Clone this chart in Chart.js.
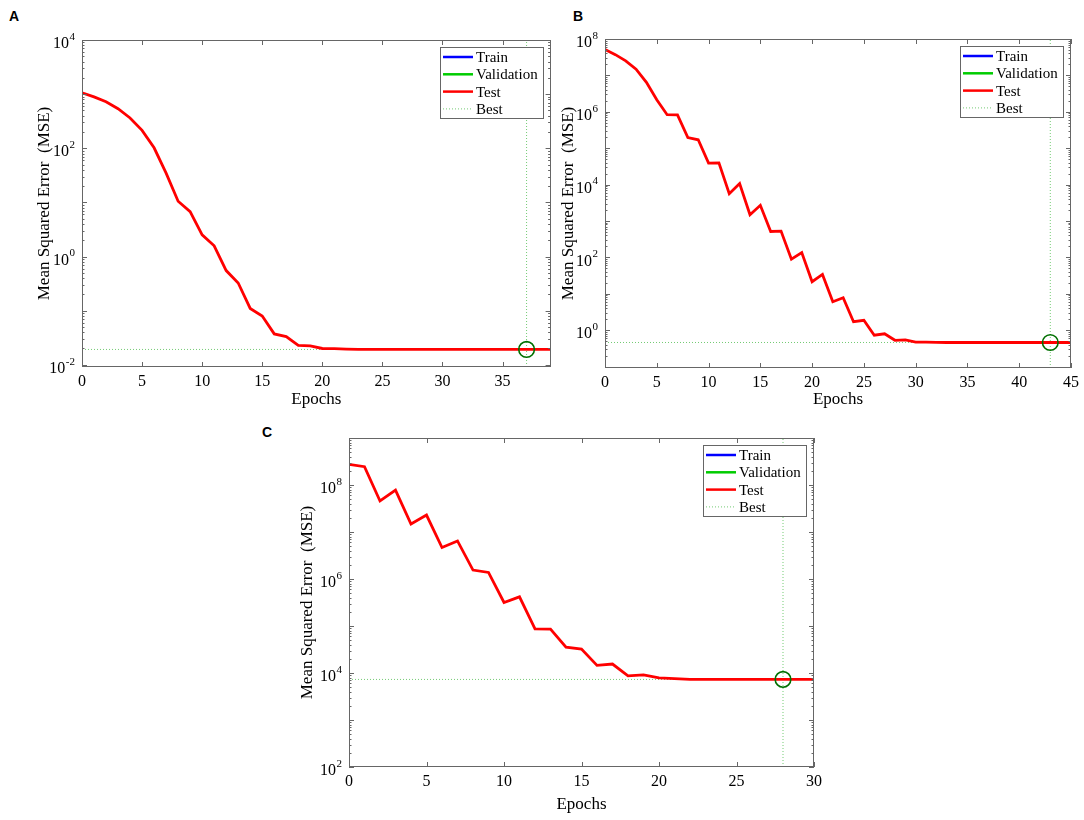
<!DOCTYPE html>
<html>
<head>
<meta charset="utf-8">
<script src="https://cdn.jsdelivr.net/npm/chart.js@4.4.1/dist/chart.umd.min.js"></script>
<style>
  body { margin: 0; background: #fff; width: 1084px; height: 820px; position: relative; overflow: hidden; }
  .panel { position: absolute; }
  .tag { position: absolute; font: bold 14px 'Liberation Sans', Arial, sans-serif; line-height: 14px; }
</style>
</head>
<body>
<div class="tag" style="left:9px;top:9px">A</div>
<div class="tag" style="left:573px;top:9px">B</div>
<div class="tag" style="left:262px;top:425px">C</div>
<div class="panel" style="left:0;top:0;width:560px;height:410px"><canvas id="chartA"></canvas></div>
<div class="panel" style="left:540px;top:0;width:544px;height:410px"><canvas id="chartB"></canvas></div>
<div class="panel" style="left:270px;top:420px;width:560px;height:400px"><canvas id="chartC"></canvas></div>
<script>
// MSE per epoch (epoch = index)
const mseA = [1060, 891, 724, 537, 363, 214, 102, 34.7, 10.5, 6.76, 2.51, 1.58, 0.55, 0.324, 0.110, 0.0794,
  0.0372, 0.0331, 0.0229, 0.0224, 0.0200, 0.0199, 0.0195, 0.0193, 0.0192, 0.0192, 0.0192, 0.0192, 0.0192, 0.0192,
  0.0192, 0.0192, 0.0192, 0.0192, 0.0192, 0.0192, 0.0192, 0.0192, 0.0192, 0.0192];
const mseB = [5.13e7, 3.72e7, 2.51e7, 1.48e7, 6.46e6, 2.14e6, 8.3e5, 8.2e5, 1.95e5, 1.70e5, 3.89e4, 3.95e4,
  5.6e3, 1.07e4, 1.48e3, 2.69e3, 513, 525, 89, 135, 21.4, 33.9, 6.03, 7.76, 1.70, 1.86, 0.724, 0.794,
  0.525, 0.537, 0.468, 0.47, 0.458, 0.457, 0.457, 0.457, 0.457, 0.457, 0.457, 0.457, 0.457, 0.457, 0.457,
  0.457, 0.457, 0.457];
const mseC = [2.75e8, 2.45e8, 4.57e7, 7.76e7, 1.48e7, 2.29e7, 4.68e6, 6.46e6, 1.55e6, 1.38e6, 3.16e5, 4.17e5,
  8.7e4, 8.6e4, 3.55e4, 3.24e4, 1.45e4, 1.55e4, 8.7e3, 9.1e3, 7.9e3, 7.6e3, 7350, 7300, 7300, 7300, 7300,
  7300, 7300, 7300, 7300];

// best epoch / best performance
const bestA = { epoch: 37, mse: 0.0192 };
const bestB = { epoch: 43, mse: 0.457 };
const bestC = { epoch: 28, mse: 7300 };

// axis limits and ticks
const xMaxA = 39, xMaxB = 45, xMaxC = 30;
const xTicksA = [0, 5, 10, 15, 20, 25, 30, 35];
const xTicksB = [0, 5, 10, 15, 20, 25, 30, 35, 40, 45];
const xTicksC = [0, 5, 10, 15, 20, 25, 30];
const yRangeA = [0.0091, 1e4];
const yRangeB = [0.091, 1e8];
const yRangeC = [100, 1e9];
const yTicksA = [1e-2, 1, 1e2, 1e4];
const yExpA = ['-2', '0', '2', '4'];
const yTicksB = [1, 1e2, 1e4, 1e6, 1e8];
const yExpB = ['0', '2', '4', '6', '8'];
const yTicksC = [1e2, 1e4, 1e6, 1e8];
const yExpC = ['2', '4', '6', '8'];

const legendItems = ['Train', 'Validation', 'Test', 'Best'];
const bestColor = 'rgba(0,160,0,0.55)';
const legendColors = ['#0000ff', '#00cc00', '#ff0000', bestColor];
const serif = "'Liberation Serif', 'Times New Roman', serif";

Chart.defaults.font.family = serif;
Chart.defaults.color = '#000';

// MATLAB-style box: inward ticks on all four sides, log minor ticks, 10^n labels, legend box
const matlabFrame = {
  id: 'matlabFrame',
  afterDatasetsDraw(chart, args, opts) {
    const { ctx, chartArea: a, scales: { x, y } } = chart;
    ctx.save();
    ctx.strokeStyle = '#666';
    ctx.lineWidth = 1;
    ctx.beginPath();
    x.ticks.forEach(t => {
      const px = Math.round(x.getPixelForValue(t.value)) + 0.5;
      ctx.moveTo(px, a.bottom); ctx.lineTo(px, a.bottom - 5);
      ctx.moveTo(px, a.top); ctx.lineTo(px, a.top + 5);
    });
    const lo = Math.floor(Math.log10(y.min)), hi = Math.ceil(Math.log10(y.max));
    for (let k = lo; k <= hi; k++) {
      for (let m = 1; m <= 9; m++) {
        const v = m * Math.pow(10, k);
        if (v < y.min || v > y.max) continue;
        const py = Math.round(y.getPixelForValue(v)) + 0.5;
        const len = m === 1 ? 5 : 2.5;
        ctx.moveTo(a.left, py); ctx.lineTo(a.left + len, py);
        ctx.moveTo(a.right, py); ctx.lineTo(a.right - len, py);
      }
    }
    ctx.stroke();
    ctx.strokeRect(Math.round(a.left) + 0.5, Math.round(a.top) + 0.5, Math.round(a.width) - 1, Math.round(a.height) - 1);

    // y tick labels as 10 with a raised exponent
    ctx.fillStyle = '#000';
    ctx.textAlign = 'right';
    ctx.textBaseline = 'middle';
    y.ticks.forEach((t, i) => {
      const py = y.getPixelForValue(t.value);
      const xr = a.left - 7;
      ctx.font = '11px ' + serif;
      const e = opts.exps[i];
      const ew = ctx.measureText(e).width;
      ctx.fillText(e, xr, py - 3);
      ctx.font = '16px ' + serif;
      ctx.fillText('10', xr - ew - 0.5, py + 4);
    });

    // legend
    ctx.font = '15px ' + serif;
    const textW = Math.max(...legendItems.map(t => ctx.measureText(t).width));
    const w = Math.round(3 + 30 + 3 + textW + 5), h = 71;
    const bx = Math.round(a.right - 8 - w), by = Math.round(a.top + 7);
    ctx.fillStyle = '#fff';
    ctx.fillRect(bx, by, w, h);
    ctx.strokeStyle = '#666';
    ctx.strokeRect(bx + 0.5, by + 0.5, w, h);
    ctx.textAlign = 'left';
    legendItems.forEach((t, i) => {
      const ly = by + 10 + i * 17.3;
      ctx.beginPath();
      ctx.strokeStyle = legendColors[i];
      ctx.lineWidth = i === 3 ? 1 : 2.5;
      ctx.setLineDash(i === 3 ? [1, 2] : []);
      ctx.moveTo(bx + 3, ly); ctx.lineTo(bx + 33, ly);
      ctx.stroke();
      ctx.setLineDash([]);
      ctx.fillStyle = '#000';
      ctx.fillText(t, bx + 36, ly + 1);
    });
    ctx.restore();
  }
};

function drawPanel(id, mse, best, xMax, xTicks, yRange, yTicks, yExps, frame) {
  const pts = mse.map((v, i) => ({ x: i, y: v }));
  new Chart(document.getElementById(id), {
    type: 'line',
    data: {
      datasets: [
        { data: [{ x: best.epoch, y: best.mse }], showLine: false, pointRadius: 7.8, pointHoverRadius: 7.8,
          pointBorderColor: '#007000', pointBorderWidth: 1.6, pointBackgroundColor: 'rgba(0,0,0,0)', order: 0 },
        { data: pts, borderColor: '#ff0000', borderWidth: 2.8, pointRadius: 0, tension: 0, order: 1 },
        { data: [{ x: 0, y: best.mse }, { x: xMax, y: best.mse }], borderColor: bestColor, borderWidth: 1,
          borderDash: [1, 2], pointRadius: 0, order: 2 },
        { data: [{ x: best.epoch, y: yRange[0] }, { x: best.epoch, y: yRange[1] }], borderColor: bestColor,
          borderWidth: 1, borderDash: [1, 2], pointRadius: 0, order: 3 }
      ]
    },
    options: {
      responsive: true,
      maintainAspectRatio: false,
      animation: false,
      layout: { padding: { left: 0, right: frame.right, top: frame.top, bottom: 0 } },
      plugins: { legend: { display: false }, tooltip: { enabled: false }, matlabFrame: { exps: yExps } },
      scales: {
        x: {
          type: 'linear', min: 0, max: xMax,
          grid: { display: false, drawTicks: false },
          border: { display: false },
          ticks: { font: { size: 16 }, padding: 5, maxRotation: 0, callback: v => String(v) },
          afterBuildTicks: s => { s.ticks = xTicks.map(v => ({ value: v })); },
          afterFit: s => { s.height = frame.xh; },
          title: { display: true, text: 'Epochs', font: { size: 17 }, padding: { top: 0, bottom: frame.xtp } }
        },
        y: {
          type: 'logarithmic', min: yRange[0], max: yRange[1],
          grid: { display: false, drawTicks: false },
          border: { display: false },
          ticks: { display: false },
          afterBuildTicks: s => { s.ticks = yTicks.map(v => ({ value: v })); },
          afterFit: s => { s.width = frame.yw; },
          title: { display: true, text: 'Mean Squared Error  (MSE)', font: { size: 17 }, padding: { top: frame.ytp, bottom: 0 } }
        }
      }
    },
    plugins: [matlabFrame]
  });
}

drawPanel('chartA', mseA, bestA, xMaxA, xTicksA, yRangeA, yTicksA, yExpA,
  { right: 5, top: 40, yw: 82, xh: 43, ytp: 34, xtp: 0 });
drawPanel('chartB', mseB, bestB, xMaxB, xTicksB, yRangeB, yTicksB, yExpB,
  { right: 10, top: 39, yw: 65, xh: 42, ytp: 18, xtp: 0 });
drawPanel('chartC', mseC, bestC, xMaxC, xTicksC, yRangeC, yTicksC, yExpC,
  { right: 16, top: 18, yw: 79, xh: 53, ytp: 27, xtp: 5 });
</script>
</body>
</html>
